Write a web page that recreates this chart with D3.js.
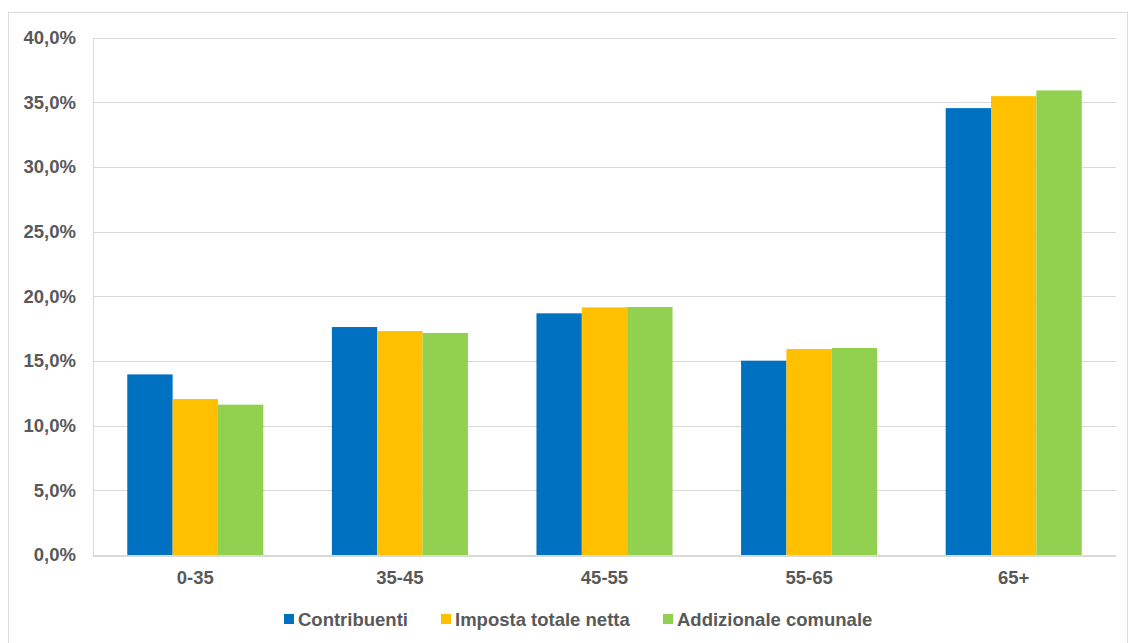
<!DOCTYPE html>
<html><head><meta charset="utf-8">
<script src="https://cdn.jsdelivr.net/npm/d3@7"></script>
<style>body{margin:0;background:#fff}svg{display:block}</style>
</head><body>
<script>
const categories = ["0-35","35-45","45-55","55-65","65+"];
const seriesNames = ["Contribuenti","Imposta totale netta","Addizionale comunale"];
const contribuenti = [13.96, 17.62, 18.68, 15.02, 34.54];
const impostaTotaleNetta = [12.05, 17.31, 19.14, 15.92, 35.47];
const addizionaleComunale = [11.62, 17.16, 19.17, 16.0, 35.91];
const yTicks = [0,5,10,15,20,25,30,35,40];
const colors = ["#0070C0","#FFC000","#92D050"];
const seriesValues = [contribuenti, impostaTotaleNetta, addizionaleComunale];

(function(){
const W = 1130, H = 643;
const svg = d3.select("body").append("svg").attr("width", W).attr("height", H);
svg.append("rect").attr("x",8.5).attr("y",12.5).attr("width",1119).attr("height",640)
  .attr("fill","#fff").attr("stroke","#D9D9D9");

const pLeft = 93, pRight = 1116, pTop = 37.5, pBottom = 555;
const y = d3.scaleLinear().domain([0,40]).range([pBottom, pTop]);
const x0 = d3.scaleBand().domain(categories).range([pLeft, pRight]).padding(0);
const groupW = x0.bandwidth() * 0.665;
const x1 = d3.scaleBand().domain(seriesNames).range([0, groupW]).padding(0);

const fmt = v => d3.format(".1f")(v).replace(".", ",") + "%";
const font = "'Liberation Sans', Arial, sans-serif";
const fs = 18.5;

svg.append("g").selectAll("line").data(yTicks.filter(t=>t>0)).join("line")
  .attr("x1", pLeft).attr("x2", pRight)
  .attr("y1", d=>Math.round(y(d))+0.5).attr("y2", d=>Math.round(y(d))+0.5)
  .attr("stroke","#D9D9D9").attr("stroke-width",1);
svg.append("line").attr("x1",pLeft+0.5).attr("x2",pLeft+0.5).attr("y1",pTop).attr("y2",pBottom)
  .attr("stroke","#D9D9D9").attr("stroke-width",1);

const g = svg.append("g");
seriesNames.forEach((s, si) => {
  g.append("g").selectAll("rect").data(categories).join("rect")
    .attr("x", (c) => x0(c) + (x0.bandwidth()-groupW)/2 + x1(s))
    .attr("y", (c,i) => y(seriesValues[si][i]))
    .attr("width", x1.bandwidth())
    .attr("height", (c,i) => pBottom - y(seriesValues[si][i]))
    .attr("fill", colors[si]);
});

svg.append("line").attr("x1",pLeft).attr("x2",pRight).attr("y1",pBottom+1).attr("y2",pBottom+1)
  .attr("stroke","#D9D9D9").attr("stroke-width",2);

svg.append("g").selectAll("text").data(yTicks).join("text")
  .attr("x", 76).attr("y", d=>y(d)).attr("dy","0.35em")
  .attr("text-anchor","end").attr("font-family",font).attr("font-weight","bold")
  .attr("font-size",fs).attr("fill","#595959").text(fmt);

svg.append("g").selectAll("text").data(categories).join("text")
  .attr("x", d=>x0(d)+x0.bandwidth()/2).attr("y", 578).attr("dy","0.35em")
  .attr("text-anchor","middle").attr("font-family",font).attr("font-weight","bold")
  .attr("font-size",fs).attr("fill","#595959").text(d=>d);

const legendX = [284, 441, 663];
const lg = svg.append("g");
seriesNames.forEach((s, i) => {
  lg.append("rect").attr("x", legendX[i]).attr("y", 614).attr("width",10).attr("height",10).attr("fill",colors[i]);
  lg.append("text").attr("x", legendX[i]+14).attr("y", 620).attr("dy","0.35em")
    .attr("font-family",font).attr("font-weight","bold").attr("font-size",fs)
    .attr("fill","#595959").text(s);
});
})();
</script>
</body></html>
